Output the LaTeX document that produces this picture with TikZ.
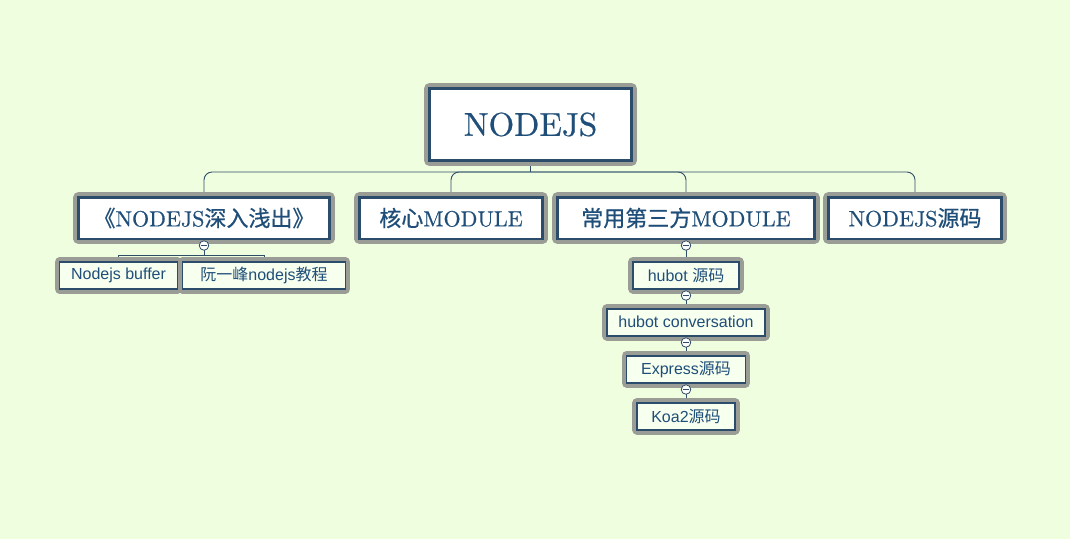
\documentclass[tikz,border=0pt]{standalone}
\usepackage{fontspec}
\setsansfont{Liberation Sans}
\newfontfamily\cjk{Noto Sans CJK SC}
\newfontfamily\cjkb{Noto Sans CJK SC}[FakeBold=0.7]
\newfontfamily\heavyrm{lmroman10-regular.otf}[FakeBold=0.6]
\usetikzlibrary{positioning}
\definecolor{paper}{HTML}{F0FEE0}
\definecolor{ink}{HTML}{1F4E79}
\definecolor{rim}{HTML}{2B4C6B}
\definecolor{halo}{HTML}{999D96}
\definecolor{wirec}{HTML}{2E4D68}
\definecolor{leaffill}{HTML}{F7FFEF}
\pgfdeclarelayer{paperlayer}
\pgfdeclarelayer{wirelayer}
\pgfsetlayers{paperlayer,wirelayer,main}
\tikzset{
  rootbox/.style={rectangle, outer sep=0pt, text=ink, fill=white, draw=rim, line width=3pt,
    preaction={draw=halo, line width=11pt, line join=round}, font=\heavyrm\fontsize{33}{40}\selectfont},
  topic/.style={rectangle, outer sep=0pt, text=ink, fill=white, draw=rim, line width=2.5pt,
    preaction={draw=halo, line width=10.5pt, line join=round}, minimum height=41.5pt, inner sep=0pt,
    font=\heavyrm\fontsize{22}{26}\selectfont},
  leaf/.style={rectangle, outer sep=0pt, text=ink, fill=leaffill, draw=rim, line width=1.5pt,
    preaction={draw=halo, line width=9.5pt, line join=round}, minimum height=27pt, inner sep=0pt,
    font=\sffamily\fontsize{16}{19}\selectfont}
}
\begin{document}
\begin{tikzpicture}[x=1pt, y=-1pt, node distance=20pt,
  wire/.style={draw=wirec, line width=0.9pt},
  fold/.style={circle, draw=wirec, fill=white, line width=0.8pt, inner sep=0pt, outer sep=0pt,
    minimum size=9.5pt, path picture={\draw[wirec, line width=0.8pt]
      ([xshift=-3pt]path picture bounding box.center) -- ([xshift=3pt]path picture bounding box.center);}}]
\begin{pgfonlayer}{paperlayer}
  \fill[paper] (0,0) rectangle (1070,539);
\end{pgfonlayer}
\useasboundingbox (0,0) rectangle (1070,539);

% root and first level
\node (nodejs) [rootbox, minimum width=202pt, minimum height=72pt] at (530.5,124.5) {NODEJS};
\node (book) [topic, minimum width=251pt] at (204,218) {{\cjkb 《}NODEJS{\cjkb 深入浅出》}};
\node (core) [topic, minimum width=183pt] at (451,218) {{\cjkb 核心}MODULE};
\node (third) [topic, minimum width=257pt] at (686,218) {{\cjkb 常用第三方}MODULE};
\node (src) [topic, minimum width=173pt] at (915,218) {NODEJS{\cjkb 源码}};

% under the book
\node (buffer) [leaf, minimum width=118pt] at (118.5,275.5) {Nodejs buffer};
\node (ruan) [leaf, minimum width=163pt] at (264,275.5) {{\cjk 阮一峰}nodejs{\cjk 教程}};
\node (bookfold) [fold, below=2pt of book] {};

% third party chain
\node (hubot) [leaf, minimum width=106pt, below=23pt of third] {hubot {\cjk 源码}};
\node (convo) [leaf, minimum width=158pt, below=of hubot] {hubot conversation};
\node (express) [leaf, minimum width=119pt, below=of convo] {Express{\cjk 源码}};
\node (koa) [leaf, minimum width=98pt, below=of express] {Koa2{\cjk 源码}};
\node (thirdfold) [fold, below=2pt of third] {};
\node (hubotfold) [fold, below=2pt of hubot] {};
\node (convofold) [fold, below=2pt of convo] {};
\node (expressfold) [fold, below=2pt of express] {};

\coordinate (busline) at (0,172);
\coordinate (subline) at (0,255);
\begin{pgfonlayer}{wirelayer}
  \draw[wire] (nodejs.south) -- (nodejs.south |- busline) coordinate (hub);
  \foreach \kid in {book,core,third,src}
    \draw[wire, rounded corners=8pt] (hub) -| (\kid.north);
  \draw[wire] (book.south) -- (book.south |- subline) coordinate (split);
  \draw[wire] (split) -| (buffer.north);
  \draw[wire] (split) -| (ruan.north);
  \draw[wire] (third.south) -- (hubot.north);
  \draw[wire] (hubot.south) -- (convo.north);
  \draw[wire] (convo.south) -- (express.north);
  \draw[wire] (express.south) -- (koa.north);
\end{pgfonlayer}
\end{tikzpicture}
\end{document}
